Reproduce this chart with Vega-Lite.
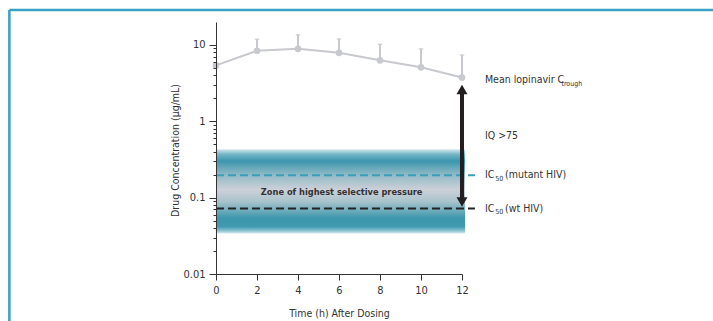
{
  "$schema": "https://vega.github.io/schema/vega-lite/v6.json",
  "width": 246,
  "height": 252,
  "autosize": {"type": "none"},
  "padding": {"left": 216, "top": 22, "right": 251, "bottom": 47},
  "background": "#ffffff",
  "config": {
    "view": {"stroke": null},
    "font": "Liberation Sans Narrow, Arial Narrow, DejaVu Sans Condensed, sans-serif",
    "axis": {
      "grid": false,
      "domainColor": "#333333",
      "tickColor": "#333333",
      "labelColor": "#333333",
      "titleColor": "#333333",
      "labelFont": "Liberation Sans Narrow, Arial Narrow, DejaVu Sans Condensed, sans-serif",
      "titleFont": "Liberation Sans Narrow, Arial Narrow, DejaVu Sans Condensed, sans-serif",
      "labelFontSize": 11,
      "titleFontSize": 10.5,
      "titleFontWeight": "normal"
    }
  },
  "datasets": {
    "frameLeft": [{"x": -10.08, "y": 28.7, "y2": 0.0001}],
    "frameTop": [{"x": -10.08, "x2": 40, "y": 28.7}],
    "band": [{"x": 0, "x2": 12.15, "y": 0.43, "y2": 0.034}],
    "ic50": [
      {"x": 0, "x2": 12.63, "y": 0.196, "kind": "mutant"},
      {"x": 0, "x2": 12.63, "y": 0.072, "kind": "wt"}
    ],
    "zone": [{"x": 6.13, "y": 0.12, "text": "Zone of highest selective pressure"}],
    "conc": [
      {"x": 0, "y": 5.4},
      {"x": 2, "y": 8.4},
      {"x": 4, "y": 8.9},
      {"x": 6, "y": 7.9},
      {"x": 8, "y": 6.3},
      {"x": 10, "y": 5.1},
      {"x": 12, "y": 3.75}
    ],
    "err": [
      {"x": 2, "y": 8.4, "upper": 11.9},
      {"x": 4, "y": 8.9, "upper": 13.6},
      {"x": 6, "y": 7.9, "upper": 12.0},
      {"x": 8, "y": 6.3, "upper": 10.2},
      {"x": 10, "y": 5.1, "upper": 8.9},
      {"x": 12, "y": 3.75, "upper": 7.4}
    ],
    "caps": [
      {"x": 2, "y": 11.9},
      {"x": 4, "y": 13.6},
      {"x": 6, "y": 12.0},
      {"x": 8, "y": 10.2},
      {"x": 10, "y": 8.9},
      {"x": 12, "y": 7.4}
    ],
    "arrow": [{"x": 12, "y": 2.61, "y2": 0.088}],
    "heads": [
      {"x": 12, "y": 2.61, "shape": "triangle-up"},
      {"x": 12, "y": 0.088, "shape": "triangle-down"}
    ],
    "labels": [
      {"x": 13.12, "y": 3.43, "text": "Mean lopinavir C"},
      {"x": 13.12, "y": 0.65, "text": "IQ >75"},
      {"x": 13.12, "y": 0.196, "text": "IC"},
      {"x": 14.1, "y": 0.196, "text": "(mutant HIV)"},
      {"x": 13.12, "y": 0.072, "text": "IC"},
      {"x": 14.1, "y": 0.072, "text": "(wt HIV)"}
    ],
    "subs": [
      {"x": 16.85, "y": 3.43, "text": "trough"},
      {"x": 13.62, "y": 0.196, "text": "50"},
      {"x": 13.62, "y": 0.072, "text": "50"}
    ]
  },
  "encoding": {
    "x": {"field": "x", "type": "quantitative", "scale": {"domain": [0, 12], "nice": false, "zero": false},
      "axis": {"values": [0, 2, 4, 6, 8, 10, 12], "tickSize": 6, "labelPadding": 4, "labelOverlap": false, "labelFlush": false,
        "title": "Time (h) After Dosing", "titleY": 39, "titleBaseline": "middle", "zindex": 1}},
    "y": {"field": "y", "type": "quantitative", "scale": {"type": "log", "domain": [0.01, 20], "nice": false},
      "axis": {
        "values": [0.01, 0.02, 0.03, 0.04, 0.05, 0.06, 0.07, 0.08, 0.09, 0.1, 0.2, 0.3, 0.4, 0.5, 0.6, 0.7, 0.8, 0.9, 1, 2, 3, 4, 5, 6, 7, 8, 9, 10],
        "labelExpr": "datum.value == 10 ? '10' : datum.value == 1 ? '1' : datum.value == 0.1 ? '0.1' : datum.value == 0.01 ? '0.01' : ''",
        "tickSize": {"condition": {"test": "datum.value == 10 || datum.value == 1 || datum.value == 0.1 || datum.value == 0.01", "value": 7}, "value": 3},
        "labelPadding": 4,
        "labelOverlap": false,
        "labelBound": false,
        "labelFlush": false,
        "title": "Drug Concentration (µg/mL)",
        "titleX": -41,
        "titleY": 128,
        "titleAngle": -90,
        "titleAlign": "center",
        "titleBaseline": "middle",
        "zindex": 1
      }}
  },
  "layer": [
    {
      "data": {"name": "band"},
      "mark": {
        "type": "rect",
        "clip": false,
        "fill": {
          "gradient": "linear", "x1": 0, "y1": 0, "x2": 0, "y2": 1,
          "stops": [
            {"offset": 0, "color": "#d4e8ee"},
            {"offset": 0.06, "color": "#73b5c6"},
            {"offset": 0.14, "color": "#3b96ad"},
            {"offset": 0.3, "color": "#8fb9c6"},
            {"offset": 0.48, "color": "#cdd0d8"},
            {"offset": 0.62, "color": "#a9c3cc"},
            {"offset": 0.82, "color": "#3c97ad"},
            {"offset": 0.92, "color": "#3f9ab0"},
            {"offset": 0.97, "color": "#90c4d2"},
            {"offset": 1, "color": "#d7eaef"}
          ]
        }
      },
      "encoding": {
        "x2": {"field": "x2"},
        "y2": {"field": "y2"}
      }
    },
    {
      "data": {"name": "frameLeft"},
      "mark": {"type": "rule", "color": "#3aa0c4", "strokeWidth": 2.5, "clip": false},
      "encoding": {"y2": {"field": "y2"}}
    },
    {
      "data": {"name": "frameTop"},
      "mark": {"type": "rule", "color": "#3aa0c4", "strokeWidth": 2.5, "clip": false},
      "encoding": {"x2": {"field": "x2"}}
    },
    {
      "data": {"name": "ic50"},
      "mark": {"type": "rule", "strokeWidth": 2, "strokeDash": [8, 4], "clip": false},
      "encoding": {
        "x2": {"field": "x2"},
        "color": {"field": "kind", "type": "nominal", "scale": {"domain": ["mutant", "wt"], "range": ["#3a9fb8", "#222222"]}, "legend": null}
      }
    },
    {
      "data": {"name": "zone"},
      "mark": {"type": "text", "fontWeight": "bold", "fontSize": 9.2, "color": "#333333", "align": "center", "baseline": "middle"},
      "encoding": {"text": {"field": "text"}}
    },
    {
      "data": {"name": "conc"},
      "mark": {"type": "line", "color": "#c8c9ce", "strokeWidth": 2},
      "encoding": {}
    },
    {
      "data": {"name": "err"},
      "mark": {"type": "rule", "color": "#c8c9ce", "strokeWidth": 2},
      "encoding": {"y2": {"field": "upper"}}
    },
    {
      "data": {"name": "caps"},
      "mark": {"type": "point", "shape": "M-1,0L1,0", "filled": false, "color": "#c8c9ce", "strokeWidth": 1.5, "size": 20},
      "encoding": {}
    },
    {
      "data": {"name": "conc"},
      "mark": {"type": "point", "shape": "circle", "filled": true, "color": "#c8c9ce", "opacity": 1, "size": 45},
      "encoding": {}
    },
    {
      "data": {"name": "arrow"},
      "mark": {"type": "rule", "color": "#231f20", "strokeWidth": 4},
      "encoding": {"y2": {"field": "y2"}}
    },
    {
      "data": {"name": "heads"},
      "mark": {"type": "point", "filled": true, "color": "#231f20", "opacity": 1, "size": 121},
      "encoding": {
        "shape": {"field": "shape", "type": "nominal", "scale": {"domain": ["triangle-up", "triangle-down"], "range": ["triangle-up", "triangle-down"]}, "legend": null}
      }
    },
    {
      "data": {"name": "labels"},
      "mark": {"type": "text", "fontSize": 10.5, "color": "#333333", "align": "left", "baseline": "middle", "clip": false},
      "encoding": {"text": {"field": "text"}}
    },
    {
      "data": {"name": "subs"},
      "mark": {"type": "text", "fontSize": 7, "color": "#333333", "align": "left", "baseline": "middle", "dy": 3.5, "clip": false},
      "encoding": {"text": {"field": "text"}}
    }
  ]
}
